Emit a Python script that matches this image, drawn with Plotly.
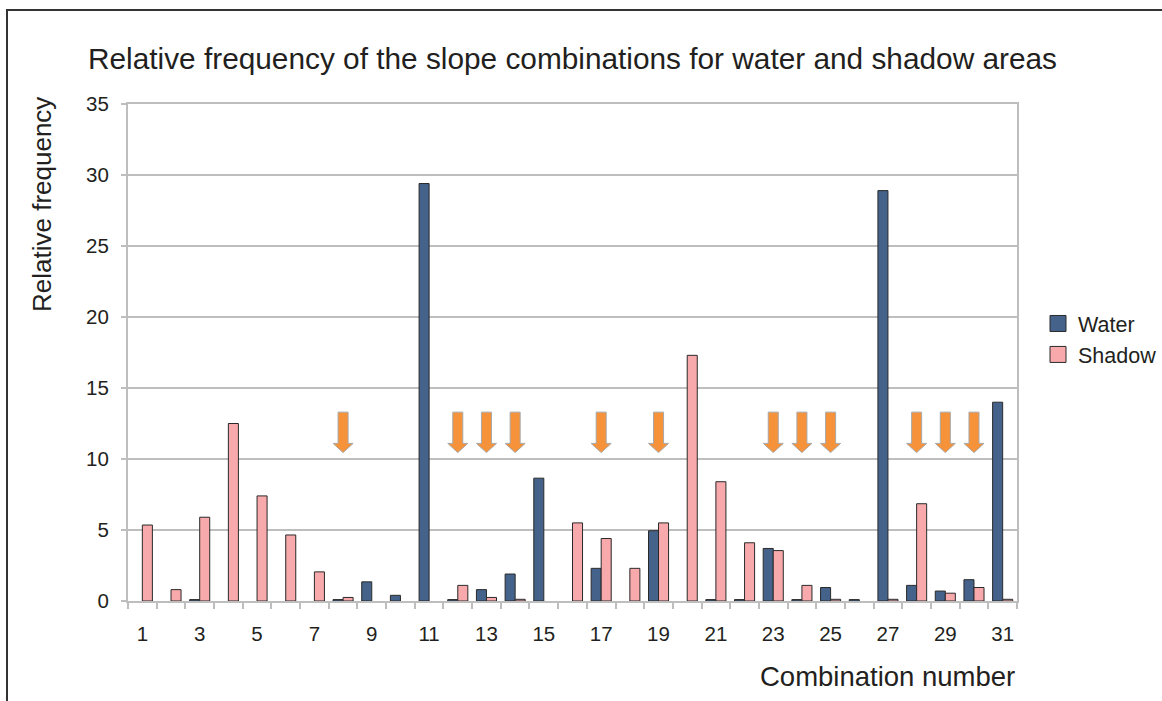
import plotly.graph_objects as go

combinations = list(range(1, 32))
water = [0, 0, 0.1, 0, 0, 0, 0, 0.1, 1.35, 0.4,
         29.4, 0.1, 0.8, 1.9, 8.65, 0, 2.3, 0, 4.95, 0,
         0.1, 0.1, 3.7, 0.1, 0.95, 0.1, 28.9, 1.1, 0.7, 1.5, 14.0]
shadow = [5.35, 0.8, 5.9, 12.5, 7.4, 4.65, 2.05, 0.25, 0, 0,
          0, 1.1, 0.25, 0.12, 0, 5.5, 4.4, 2.3, 5.5, 17.3,
          8.4, 4.1, 3.55, 1.1, 0.12, 0, 0.12, 6.85, 0.55, 0.95, 0.12]
arrow_combos = [8, 12, 13, 14, 17, 19, 23, 24, 25, 28, 29, 30]
x_tick_labels = [c for c in combinations if c % 2 == 1]
y_ticks = [0, 5, 10, 15, 20, 25, 30, 35]

TXT = "#231f20"
GRID = "#bebebe"
FONT = "Liberation Sans, Arial, sans-serif"
WATER_C = "#44628a"
SHADOW_C = "#f8a9ab"
EDGE = "#2a2a2a"

def nz(v):
    return [x if x > 0 else None for x in v]

fig = go.Figure()
fig.add_trace(go.Bar(x=combinations, y=nz(water), name="Water", showlegend=False,
                     marker=dict(color=WATER_C, line=dict(color=EDGE, width=1))))
fig.add_trace(go.Bar(x=combinations, y=nz(shadow), name="Shadow", showlegend=False,
                     marker=dict(color=SHADOW_C, line=dict(color=EDGE, width=1))))
# legend entries with larger square swatches
for nm, col in [("Water", WATER_C), ("Shadow", SHADOW_C)]:
    fig.add_trace(go.Scatter(x=[None], y=[None], mode="markers", name=nm,
                             marker=dict(symbol="square", size=16, color=col,
                                         line=dict(color=EDGE, width=1))))

# block arrows (data coordinates)
shaft_half, head_half = 0.175, 0.35
y_top, y_head, y_tip = 13.3, 11.1, 10.45
for c in arrow_combos:
    path = (f"M {c - shaft_half},{y_top} L {c + shaft_half},{y_top} L {c + shaft_half},{y_head} "
            f"L {c + head_half},{y_head} L {c},{y_tip} L {c - head_half},{y_head} "
            f"L {c - shaft_half},{y_head} Z")
    fig.add_shape(type="path", path=path, xref="x", yref="y",
                  fillcolor="#f5923a", line=dict(color="#a8a8a8", width=1), layer="above")

L, R, T, B = 128, 145, 104, 100
W, H = 1162, 701
pw, ph = W - L - R, H - T - B

def px(xp):
    return (xp - L) / pw

def py(yp):
    return (H - B - yp) / ph

# outer frame
fig.add_shape(type="rect", xref="paper", yref="paper",
              x0=px(7), x1=px(W + 20), y0=py(H + 20), y1=py(10),
              line=dict(color="#333333", width=2), fillcolor="rgba(0,0,0,0)", layer="below")

fig.add_annotation(text="Relative frequency", textangle=-90, xref="paper", yref="paper",
                   x=px(42), y=py(205), showarrow=False,
                   font=dict(size=26, color=TXT, family=FONT), xanchor="center", yanchor="middle")
fig.add_annotation(text="Combination number", xref="paper", yref="paper",
                   x=px(1017), y=py(676), showarrow=False,
                   font=dict(size=27.5, color=TXT, family=FONT), xanchor="right", yanchor="middle")

fig.update_layout(
    width=W, height=H,
    margin=dict(l=L, r=R, t=T, b=B, autoexpand=False),
    paper_bgcolor="white", plot_bgcolor="white",
    font=dict(family=FONT, color=TXT),
    title=dict(text="Relative frequency of the slope combinations for water and shadow areas",
               x=0.5, xref="paper", xanchor="center", y=1 - 59 / H, yref="container",
               yanchor="middle", font=dict(size=29.8, color=TXT, family=FONT)),
    barmode="group", bargap=0.3, bargroupgap=0,
    legend=dict(x=px(1038), y=py(303), xanchor="left", yanchor="top",
                font=dict(size=21.5, color=TXT, family=FONT), bgcolor="rgba(0,0,0,0)",
                tracegroupgap=4, itemsizing="trace", itemwidth=30),
    showlegend=True,
)
fig.update_xaxes(range=[0.5, 31.5], tickmode="array", tickvals=x_tick_labels,
                 ticktext=[str(v) for v in x_tick_labels], ticks="",
                 showgrid=False, showline=True, mirror=True, linecolor=GRID, linewidth=2,
                 tickfont=dict(size=20.5, color=TXT), ticklabelstandoff=13,
                 minor=dict(ticks="outside", tickmode="array",
                            tickvals=[c - 0.5 for c in combinations] + [combinations[-1] + 0.5],
                            ticklen=6, tickcolor=GRID, tickwidth=2, showgrid=False),
                 zeroline=False)
fig.update_yaxes(range=[0, 35], tickmode="array", tickvals=y_ticks, ticks="outside",
                 ticklen=5, tickcolor=GRID, tickwidth=2,
                 showgrid=True, gridcolor=GRID, gridwidth=2,
                 showline=True, mirror=True, linecolor=GRID, linewidth=2,
                 tickfont=dict(size=20.5, color=TXT), ticklabelstandoff=8, zeroline=False)

fig.write_html("out.html", config={"displayModeBar": False},
               post_script="document.body.style.margin='0';document.body.style.overflow='hidden';")
